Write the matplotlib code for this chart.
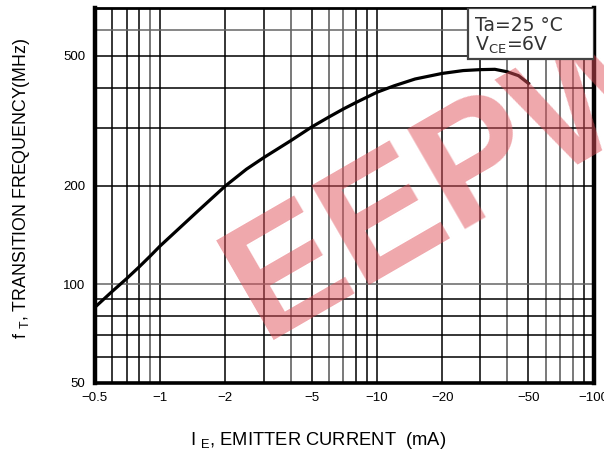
import numpy as np
import matplotlib
matplotlib.use("Agg")
import matplotlib.pyplot as plt
from matplotlib.patches import Rectangle

plt.rcParams['font.family'] = ['Liberation Sans', 'DejaVu Sans']

# emitter current (mA, shown negative) and transition frequency (MHz)
ie = [0.5, 0.6, 0.7, 0.8, 0.9, 1, 1.5, 2, 2.5, 3, 4, 5, 6, 7, 8, 9, 10, 12, 15, 20, 25, 30, 35, 40, 45, 50]
ft = [85, 95, 104, 113, 122, 131, 168, 200, 225, 244, 275, 303, 325, 344, 360, 374, 387, 405, 425, 442, 451, 454, 455, 447, 435, 412]

x_ticks = [0.5, 1, 2, 5, 10, 20, 50, 100]
x_labels = ['\u22120.5', '\u22121', '\u22122', '\u22125', '\u221210', '\u221220', '\u221250', '\u2212100']
y_ticks = [50, 100, 200, 500]
y_labels = ['50', '100', '200', '500']
x_grid = [0.6, 0.7, 0.8, 0.9, 1, 2, 3, 4, 5, 6, 7, 8, 9, 10, 20, 30, 40, 50, 60, 70, 80, 90]
y_grid = [60, 70, 80, 90, 100, 200, 300, 400, 500, 600]

fig = plt.figure(figsize=(6.04, 4.55), dpi=100)
ax = fig.add_axes([0.157, 0.159, 0.826, 0.823])
ax.set_xscale('log')
ax.set_yscale('log')
ax.set_xlim(0.5, 100)
ax.set_ylim(50, 700)

# grid drawn by hand, some lines darker than others like the scan
for g in x_grid:
    c = 'black' if g in (0.6, 0.7, 0.8, 1, 2, 3, 5, 8, 9, 10, 20, 30, 50, 90) else '#555555'
    ax.axvline(g, color=c, lw=1.1, zorder=1)
for g in y_grid:
    c = '#666666' if g in (100, 600) else 'black'
    ax.axhline(g, color=c, lw=1.1, zorder=1)

ax.plot(ie, ft, color='black', lw=2.3, zorder=3, solid_joinstyle='round')

ax.set_xticks(x_ticks)
ax.set_xticklabels(x_labels)
ax.set_yticks(y_ticks)
ax.set_yticklabels(y_labels)
ax.minorticks_off()
ax.tick_params(length=0, labelsize=9.5, pad=7)

for s in ax.spines.values():
    s.set_linewidth(2)
ax.spines['left'].set_linewidth(3.2)
ax.spines['right'].set_linewidth(3.2)
ax.spines['bottom'].set_linewidth(2.6)

fig.text(318 / 604, 1 - 445 / 455, 'I $_{\\mathregular{E}}$, EMITTER CURRENT  (mA)',
         fontsize=13.2, ha='center', va='baseline')
fig.text(22 / 604, 1 - 188 / 455, 'f $_{\\mathregular{T}}$, TRANSITION FREQUENCY(MHz)',
         fontsize=12.8, ha='center', va='center', rotation=90)

# condition box in the top right corner
ax.add_patch(Rectangle((0.7475, 0.863), 0.2525, 0.137, transform=ax.transAxes,
                       fc='white', ec='#444444', lw=1.6, zorder=5))
ax.text(0.762, 0.9386, 'Ta=25 \u00b0C', transform=ax.transAxes, ha='left', va='baseline',
        fontsize=13.5, family='DejaVu Sans', color='#333333', zorder=6)
ax.text(0.762, 0.8877, 'V$_{\\mathregular{CE}}$=6V', transform=ax.transAxes, ha='left', va='baseline',
        fontsize=13.5, family='DejaVu Sans', color='#333333', zorder=6)

# watermark
ax.text(0.72, 0.54, 'EEPW', transform=ax.transAxes, ha='center', va='center',
        fontsize=120, fontweight='bold', color='#e0505a', alpha=0.5, rotation=30, zorder=4)

fig.savefig('out.png', dpi=100)
